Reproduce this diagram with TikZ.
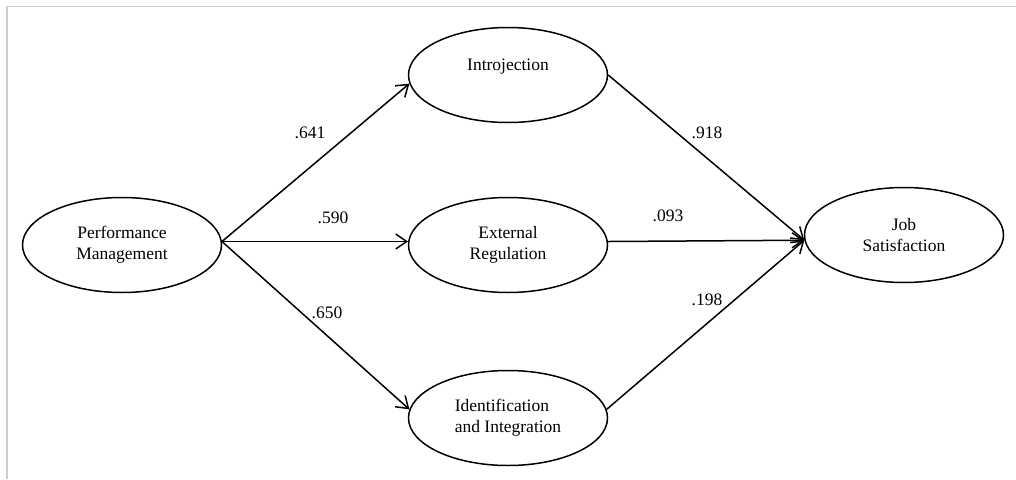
\documentclass[tikz,border=0pt]{standalone}
\usepackage{fontspec}
\setmainfont{Liberation Serif}
\usetikzlibrary{shapes.geometric,arrows.meta}

\tikzset{
  latent/.style={draw, ellipse, line width=1.5pt, minimum width=199pt,
    minimum height=95pt, inner sep=0pt, align=center,
    font=\fontsize{17.5}{21}\selectfont},
  path/.style={line width=1.5pt, -{Straight Barb[length=11pt,width=15pt,line width=1.5pt]}},
  coef/.style={font=\fontsize{17.5}{21}\selectfont, inner sep=0pt}
}

\begin{document}
\begin{tikzpicture}[x=1pt, y=-1pt]
  \useasboundingbox (0,0) rectangle (1016,479);
  \draw[black!20, line width=1.5pt] (7,479) -- (7,6.5) -- (1016,6.5);

  \node[latent] (pm) at (122,245) {Performance\\Management};
  \node[latent] (intro) at (508,75) {Introjection\\\mbox{}};
  \node[latent] (ext) at (508,245) {External\\Regulation};
  \node[latent, align=left] (ident) at (508,418) {Identification\\and Integration};
  \node[latent] (js) at (904,235) {Job\\Satisfaction};

  \foreach \t/\a in {intro/185, ext/178, ident/175}
    \draw[path] (pm.2) -- (\t.\a);
  \foreach \s/\b in {intro/0, ext/2, ident/5}
    \draw[path] (\s.\b) -- (js.183);

  \node[coef] (c1) at (310,133) {.641};
  \node[coef] (c2) at (333,218) {.590};
  \node[coef] (c3) at (327,313) {.650};
  \node[coef] (c4) at (707,133) {.918};
  \node[coef] (c5) at (668,216) {.093};
  \node[coef] (c6) at (707,300) {.198};
\end{tikzpicture}
\end{document}
